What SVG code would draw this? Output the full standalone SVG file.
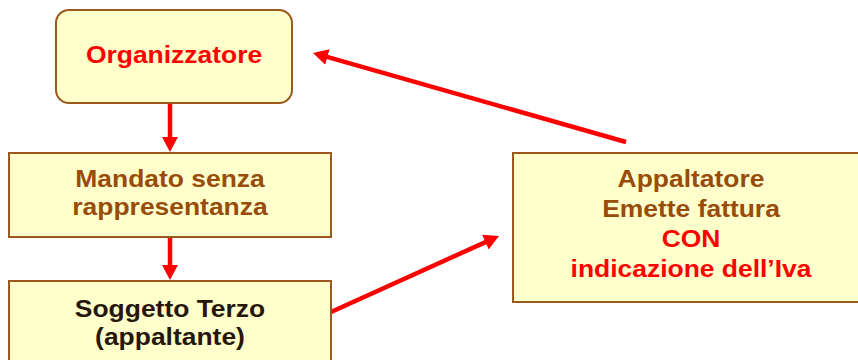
<svg xmlns="http://www.w3.org/2000/svg" width="858" height="360" viewBox="0 0 858 360">
  <defs>
    <marker id="head" markerUnits="userSpaceOnUse" markerWidth="16" markerHeight="16" viewBox="0 0 16 16" refX="5" refY="8" orient="auto">
      <path d="M0,0 L15,8 L0,16 Z" fill="#FF0000"/>
    </marker>
    <style>
      .box { fill: #FFFFCC; stroke: #9A5A1E; stroke-width: 2; }
      .t { font-family: "Liberation Sans", Arial, sans-serif; font-weight: bold; font-size: 23px; text-anchor: middle; }
      .red { fill: #FF0000; }
      .brown { fill: #994C0A; }
      .dark { fill: #26170A; }
      .link { stroke: #FF0000; stroke-width: 4.5; fill: none; marker-end: url(#head); }
    </style>
  </defs>
  <rect width="858" height="360" fill="#FFFFFF"/>

  <g id="connectors">
    <line class="link" x1="170" y1="103" x2="170" y2="142"/>
    <line class="link" x1="170" y1="237" x2="170" y2="270"/>
    <line class="link" x1="626" y1="142" x2="322.6" y2="55.7"/>
    <line class="link" x1="331" y1="312" x2="489.9" y2="240.1"/>
  </g>

  <g id="organizzatore">
    <rect class="box" x="56" y="10" width="236" height="93" rx="13"/>
    <g transform="translate(174,0) scale(1.15,1)">
      <text class="t red" x="0" y="63">Organizzatore</text>
    </g>
  </g>

  <g id="mandato">
    <rect class="box" x="9" y="153" width="322" height="84"/>
    <g transform="translate(170,0) scale(1.15,1)">
      <text class="t brown" x="0" y="187">Mandato senza</text>
      <text class="t brown" x="0" y="215">rappresentanza</text>
    </g>
  </g>

  <g id="soggetto">
    <rect class="box" x="9" y="281" width="322" height="100"/>
    <g transform="translate(170,0) scale(1.15,1)">
      <text class="t dark" x="0" y="317">Soggetto Terzo</text>
      <text class="t dark" x="0" y="345">(appaltante)</text>
    </g>
  </g>

  <g id="appaltatore">
    <rect class="box" x="513" y="153" width="360" height="149"/>
    <g transform="translate(691,0) scale(1.15,1)">
      <text class="t brown" x="0" y="187">Appaltatore</text>
      <text class="t brown" x="0" y="217">Emette fattura</text>
      <text class="t red" x="0" y="247">CON</text>
      <text class="t red" x="0" y="277">indicazione dell’Iva</text>
    </g>
  </g>
</svg>
